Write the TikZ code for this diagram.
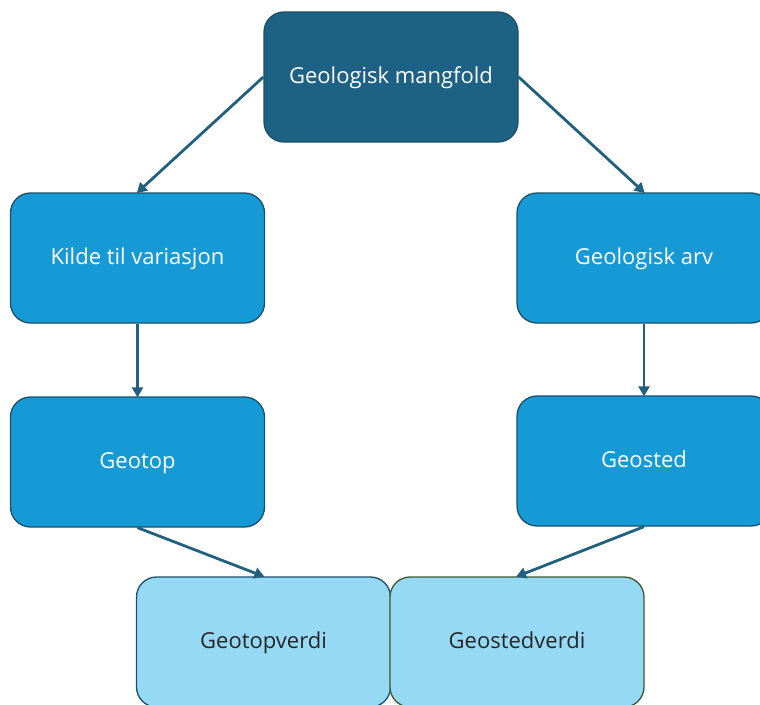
\documentclass[tikz,border=0pt]{standalone}
\usepackage{fontspec}
\setmainfont{Open Sans}
\usetikzlibrary{arrows.meta}
\definecolor{topfill}{HTML}{1D6184}
\definecolor{midfill}{HTML}{169AD6}
\definecolor{lowfill}{HTML}{96D9F5}
\definecolor{edgecol}{HTML}{1A4F69}
\definecolor{greenedge}{HTML}{3B5A2C}
\definecolor{arrowcol}{HTML}{22607F}
\tikzset{
  box/.style={draw=edgecol, line width=1.3pt, rounded corners=20pt, minimum width=254pt, minimum height=130pt, inner sep=0pt, text height=16pt, text depth=4pt, font=\fontsize{22}{26}\selectfont},
  topbox/.style={box, fill=topfill, text=white},
  midbox/.style={box, fill=midfill, text=white},
  lowbox/.style={box, fill=lowfill, text=black!85},
  conn/.style={draw=arrowcol, line width=2.8pt, -{Triangle[length=10pt,width=11pt]}, shorten >=-1pt}
}
\begin{document}
\begin{tikzpicture}[x=1pt,y=-1pt]
\useasboundingbox (0,0) rectangle (760,704);
\clip (0,0) rectangle (760,704);
\node[topbox] (gm) at (391,77) {Geologisk mangfold};
\node[midbox] (kv) at (137.5,258) {Kilde til variasjon};
\node[midbox] (ga) at (644,258) {Geologisk arv};
\node[midbox] (gt) at (137.5,462) {Geotop};
\node[midbox] (gs) at (644,461) {Geosted};
\node[lowbox] (gtv) at (263.5,642) {Geotopverdi};
\node[lowbox, draw=greenedge] (gsv) at (517,642) {Geostedverdi};
\draw[conn] (gm.west) -- (kv.north);
\draw[conn] (gm.east) -- (ga.north);
\draw[conn] (kv.south) -- (gt.north);
\draw[conn] (ga.south) -- (gs.north);
\draw[conn] (gt.south) -- (gtv.north);
\draw[conn] (gs.south) -- (gsv.north);
\end{tikzpicture}
\end{document}
